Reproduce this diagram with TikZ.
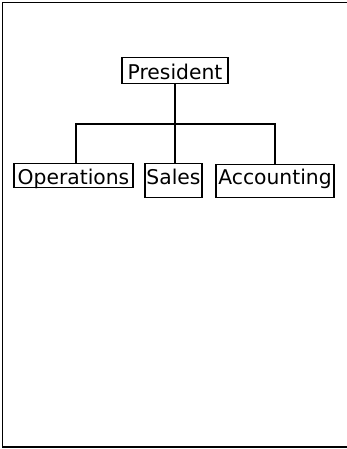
\documentclass[tikz,border=0pt]{standalone}
\usepackage{fontspec}
\setmainfont{DejaVu Sans}
\usetikzlibrary{positioning}

\begin{document}
\begin{tikzpicture}[x=1pt,y=-1pt,line width=1.1pt,
                unit/.style={draw,anchor=north,inner xsep=0pt,inner ysep=0pt,
                  text height=20.5pt,text depth=3.5pt,
                  font=\fontsize{20.3}{22}\selectfont}]
	\useasboundingbox (0,0) rectangle (347,449);
	\draw[line width=1.6pt] (347,2.5) -- (2.5,2.5) -- (2.5,447) -- (347,447);
	\node[unit,minimum width=106pt,text height=21.5pt,text depth=4.5pt] (pres) at (175,57) {President};
	\node[unit,minimum width=119pt] (ops) at (73.5,163) {Operations};
	\node[unit,minimum width=57pt,text depth=13.5pt] (sales) at (173.5,163) {Sales};
	\node[unit,minimum width=118pt,text height=19.5pt,text depth=13.5pt] (acct) at (275,164) {Accounting};
	\coordinate (split) at (175,124);
	
	\draw (pres.south) -- (pres.south |- sales.north);
	\draw ([xshift=2.5pt]ops.north) |- (split) -| (acct.north);
\end{tikzpicture}
\end{document}
